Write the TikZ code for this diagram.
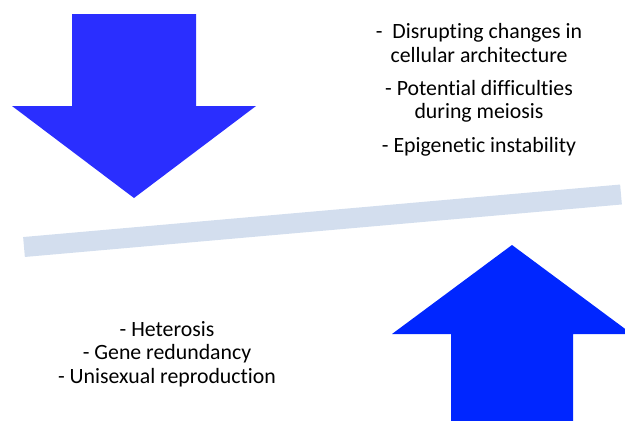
\documentclass[tikz,border=0pt]{standalone}
\usepackage{fontspec}
\setmainfont{Carlito}[Ligatures={NoCommon}]
\definecolor{downblue}{RGB}{42,46,255}
\definecolor{upblue}{RGB}{0,38,255}
\definecolor{beam}{RGB}{211,222,238}
\tikzset{
  txt/.style={anchor=base,inner sep=0pt,font=\fontsize{21.8}{26}\selectfont},
  bigarrow/.style={draw=none}
}
\begin{document}
\begin{tikzpicture}[x=1pt,y=-1pt]
      \useasboundingbox (0,0) rectangle (625,421);
      \coordinate (bl) at (24,247);
      \coordinate (br) at (621,194.5);
      \draw[beam,line width=20pt] (bl) -- (br);
      \fill[downblue,bigarrow] (72,14) -- (196,14) -- (196,106) -- (256,106)
	-- (134,198) -- (12,106) -- (72,106) -- cycle;
      \fill[upblue,bigarrow] (451,421) -- (451,334) -- (392,334) -- (512,245)
	-- (632,334) -- (573,334) -- (573,421) -- cycle;
      \node[txt] (con1a) at (479,38) {-\ \ Disrupting changes in};
      \node[txt] (con1b) at (479,62) {cellular architecture};
      \node[txt] (con2a) at (479,95) {- Potential difficulties};
      \node[txt] (con2b) at (479,118) {during meiosis};
      \node[txt] (con3) at (479,152) {- Epigenetic instability};
      \node[txt] (pro1) at (167,336) {- Heterosis};
      \node[txt] (pro2) at (167,359) {- Gene redundancy};
      \node[txt] (pro3) at (167,383) {- Unisexual reproduction};
\end{tikzpicture}
\end{document}
